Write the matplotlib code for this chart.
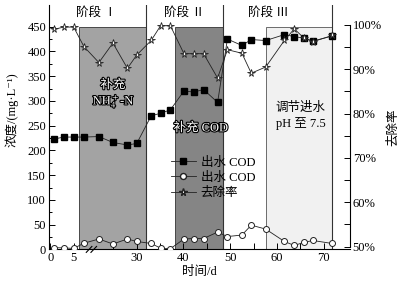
import matplotlib
matplotlib.use("Agg")
import matplotlib.pyplot as plt
import matplotlib.patheffects as pe
from matplotlib.lines import Line2D
from matplotlib.ticker import FixedLocator

plt.rcParams['font.family'] = ['Liberation Serif', 'Noto Sans CJK SC', 'DejaVu Serif']
plt.rcParams['mathtext.fontset'] = 'stix'
plt.rcParams['font.size'] = 9

# 时间 (d), 出水 COD (方块), 出水 COD (圆圈), 去除率 (%)
days = [0.8, 2.9, 5.0, 7.2, 21.9, 24.9, 28.0, 30.0, 33.1, 35.1, 37.2, 40.1,
        42.2, 44.3, 47.3, 49.4, 52.5, 54.5, 57.6, 61.6, 63.7, 65.7, 67.7, 71.8]
cod_out = [223, 227, 227, 227, 228, 216, 211, 214, 270, 275, 282, 320,
           318, 323, 297, 425, 412, 424, 422, 434, 430, 427, 421, 431]
cod_out2 = [3.6, 3, 2, 12.5, 21, 11, 21, 16, 12, 2.5, 1.5, 21,
            22, 22, 35, 26, 29, 49, 41, 16, 8, 14, 18, 12]
removal = [99.0, 99.5, 99.5, 95.1, 91.5, 95.9, 90.2, 93.2, 96.5, 99.8, 99.8, 93.5,
           93.5, 93.5, 88.0, 94.4, 93.6, 89.1, 90.5, 96.5, 99.1, 97.1, 96.2, 97.6]

# 阶段分区 (d)
stage1_shade = (6.1, 31.9)
stage2_shade = (38.1, 48.4)
stage3_shade = (57.6, 71.7)
separators = [31.9, 48.4, 71.7]

# 横轴断开: 8~20 d 之间省略
GAP = 11.5
def pos(d):
    return d if d < 15 else d - GAP

fig = plt.figure(figsize=(4.04, 2.88), dpi=100)
ax = fig.add_axes([0.121, 0.134, 0.745, 0.849])
ax2 = ax.twinx()

xs = [pos(d) for d in days]
ymax_shade = 450 / 494

ax.axvspan(pos(stage1_shade[0]), pos(stage1_shade[1]), ymax=ymax_shade,
           facecolor='#a3a3a3', edgecolor='#333333', lw=0.6, zorder=0)
ax.axvspan(pos(stage2_shade[0]), pos(stage2_shade[1]), ymax=ymax_shade,
           facecolor='#858585', edgecolor='#333333', lw=0.6, zorder=0)
ax.axvspan(pos(stage3_shade[0]), pos(stage3_shade[1]), ymax=ymax_shade,
           facecolor='#f1f1f1', edgecolor='#555555', lw=0.6, zorder=0)
for s in separators:
    ax.axvline(pos(s), color='#333333', lw=0.8, zorder=1)

ax.plot(xs, cod_out, color='#222222', lw=0.6, marker='s', ms=4,
        mfc='black', mec='black', zorder=3)
ax.plot(xs, cod_out2, color='#222222', lw=0.6, marker='o', ms=4.3,
        mfc='white', mec='#222222', mew=0.7, zorder=3)
ax2.plot(xs, removal, color='#222222', lw=0.6, marker='*', ms=5.5,
         mfc='white', mec='#222222', mew=0.6, zorder=3)

ax.set_xlim(-0.3, 64.1)
ax.set_ylim(0, 494)
ax2.set_ylim(49.37, 104.5)

major_days = [0, 5, 30, 40, 50, 60, 70]
minor_days = [25, 35, 45, 55, 65]
ax.xaxis.set_major_locator(FixedLocator([pos(d) for d in major_days]))
ax.set_xticklabels([str(d) for d in major_days])
ax.xaxis.set_minor_locator(FixedLocator([pos(d) for d in minor_days]))
ax.yaxis.set_major_locator(FixedLocator(list(range(0, 451, 50))))
ax.yaxis.set_minor_locator(FixedLocator(list(range(25, 451, 50))))
ax.tick_params(which='both', direction='in', length=4, width=0.7, pad=2)
ax.tick_params(axis='y', which='minor', length=2.5)

ax2.yaxis.set_major_locator(FixedLocator([50, 60, 70, 80, 90, 100]))
ax2.yaxis.set_minor_locator(FixedLocator([55, 65, 75, 85, 95]))
ax2.set_yticklabels(['50%', '60%', '70%', '80%', '90%', '100%'])
ax2.tick_params(which='both', direction='in', length=4, width=0.7, pad=2)

for a in (ax, ax2):
    a.spines['top'].set_visible(False)
ax.spines['right'].set_visible(False)
ax2.spines['left'].set_visible(False)
ax2.spines['bottom'].set_visible(False)
ax2.spines['right'].set_bounds(50, 100)
for sp in ax.spines.values():
    sp.set_linewidth(0.8)
ax2.spines['right'].set_linewidth(0.8)

# 断轴符号
for dx in (-0.5, 0.5):
    xb = 8.8 + dx
    ax.plot([xb - 0.6, xb + 0.6], [-6, 6], color='black', lw=0.8, clip_on=False, zorder=5)

ax.set_xlabel('时间/d', labelpad=1)
ax.set_ylabel('浓度/(mg·L⁻¹)')
ax.yaxis.set_label_coords(-0.10, 0.57)
ax2.set_ylabel('去除率', labelpad=4)

# 阶段标注
ax.text(9.9, 478, '阶段 Ⅰ', ha='center', va='center')
ax.text((pos(31.9) + pos(48.4)) / 2, 478, '阶段 Ⅱ', ha='center', va='center')
ax.text(46.6, 478, '阶段 Ⅲ', ha='center', va='center')

outline = [pe.withStroke(linewidth=1.6, foreground='black')]
ax.text(13.4, 332, '补充', ha='center', va='center', color='white', path_effects=outline)
ax.text(13.6, 300, 'NH$_4^+$-N', ha='center', va='center', color='white', path_effects=outline)
ax.text(32.2, 245, '补充 COD', ha='center', va='center', color='white', path_effects=outline)
ax.text(53.6, 286, '调节进水', ha='center', va='center')
ax.text(53.6, 254, 'pH 至 7.5', ha='center', va='center')

handles = [
    Line2D([], [], color='#222222', lw=0.6, marker='s', ms=4, mfc='black', mec='black'),
    Line2D([], [], color='#222222', lw=0.6, marker='o', ms=4.3, mfc='white', mec='#222222'),
    Line2D([], [], color='#222222', lw=0.6, marker='*', ms=5.5, mfc='white', mec='#222222'),
]
leg = ax2.legend(handles, ['出水 COD', '出水 COD', '去除率'], loc='upper left',
                 bbox_to_anchor=(0.405, 0.38), frameon=False, handlelength=2.0,
                 handletextpad=0.4, labelspacing=0.25, borderpad=0, borderaxespad=0)

fig.savefig('out.png', dpi=100)
